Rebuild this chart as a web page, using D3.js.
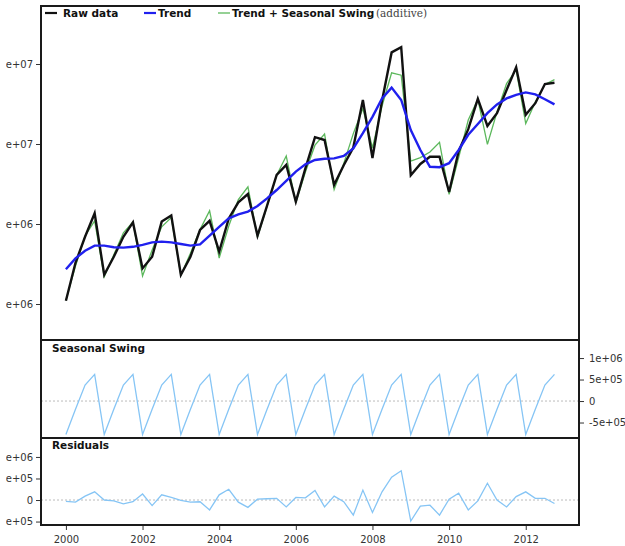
<!DOCTYPE html>
<html>
<head>
<meta charset="utf-8">
<script src="https://cdn.jsdelivr.net/npm/d3@7"></script>
<style>
  body { margin: 0; background: #fff; }
  text { font-family: "DejaVu Sans", Verdana, sans-serif; }
</style>
</head>
<body>
<div id="grafico"></div>
<script>
// dados trimestrais 2000 Q1 .. 2012 Q4 (valores em milhoes)
var anos = [2000, 2001, 2002, 2003, 2004, 2005, 2006, 2007, 2008, 2009, 2010, 2011, 2012];
var trimestres = [0, 0.25, 0.5, 0.75];

var brutos = [6.08, 7.03, 7.68, 8.27, 6.73, 7.18, 7.68, 8.04, 6.89, 7.18, 8.06, 8.21,
  6.73, 7.18, 7.85, 8.08, 7.31, 8.14, 8.54, 8.75, 7.71, 8.46, 9.23, 9.48,
  8.56, 9.39, 10.17, 10.10, 8.98, 9.47, 9.91, 11.10, 9.65, 11.08, 12.29, 12.42,
  9.22, 9.50, 9.68, 9.68, 8.80, 9.82, 10.37, 11.13, 10.45, 10.77, 11.35, 11.92,
  10.73, 11.02, 11.50, 11.53];

var tendencia = [6.87, 7.14, 7.33, 7.46, 7.46, 7.42, 7.41, 7.43, 7.48, 7.54, 7.56, 7.54,
  7.50, 7.46, 7.49, 7.71, 7.93, 8.14, 8.24, 8.31, 8.45, 8.64, 8.85, 9.08,
  9.31, 9.49, 9.60, 9.63, 9.64, 9.70, 9.89, 10.27, 10.68, 11.14, 11.41, 11.10,
  10.35, 9.85, 9.43, 9.42, 9.52, 9.85, 10.23, 10.50, 10.77, 10.99, 11.14, 11.23,
  11.29, 11.24, 11.12, 10.99];

var tendSazonal = [6.09, 6.95, 7.70, 8.08, 6.68, 7.23, 7.78, 8.05, 6.70, 7.35, 7.93, 8.16,
  6.72, 7.27, 7.86, 8.33, 7.15, 7.95, 8.61, 8.93, 7.67, 8.45, 9.22, 9.70,
  8.53, 9.30, 9.97, 10.25, 8.86, 9.51, 10.26, 10.89, 9.90, 10.95, 11.78, 11.72,
  9.57, 9.66, 9.80, 10.04, 8.74, 9.66, 10.60, 11.12, 9.99, 10.80, 11.51, 11.85,
  10.51, 11.05, 11.49, 11.61];

var sazonal = [-0.78, -0.19, 0.37, 0.62, -0.78, -0.19, 0.37, 0.62, -0.78, -0.19, 0.37, 0.62,
  -0.78, -0.19, 0.37, 0.62, -0.78, -0.19, 0.37, 0.62, -0.78, -0.19, 0.37, 0.62,
  -0.78, -0.19, 0.37, 0.62, -0.78, -0.19, 0.37, 0.62, -0.78, -0.19, 0.37, 0.62,
  -0.78, -0.19, 0.37, 0.62, -0.78, -0.19, 0.37, 0.62, -0.78, -0.19, 0.37, 0.62,
  -0.78, -0.19, 0.37, 0.62];

var residuos = [-0.03, -0.05, 0.09, 0.19, 0.00, -0.02, -0.09, -0.04, 0.14, -0.13, 0.12, 0.06,
  -0.01, -0.05, -0.04, -0.23, 0.12, 0.25, -0.05, -0.17, 0.02, 0.03, 0.04, -0.16,
  0.06, 0.05, 0.22, -0.16, 0.09, -0.04, -0.35, 0.23, -0.29, 0.19, 0.53, 0.68,
  -0.49, -0.14, -0.12, -0.35, 0.02, 0.16, -0.23, -0.02, 0.39, 0.00, -0.16, 0.08,
  0.19, 0.04, 0.04, -0.08];

var ticksX = [2000, 2002, 2004, 2006, 2008, 2010, 2012];
var ticksPrincipal = [6, 8, 10, 12];
var rotulosPrincipal = ["6e+06", "8e+06", "1e+07", "1.2e+07"];
var ticksSazonal = [-0.5, 0, 0.5, 1];
var rotulosSazonal = ["-5e+05", "0", "5e+05", "1e+06"];
var ticksResiduos = [-0.5, 0, 0.5, 1];
var rotulosResiduos = ["-5e+05", "0", "5e+05", "1e+06"];

var legenda = [
  {nome: "Raw data", cor: "#111111", x: 45},
  {nome: "Trend", cor: "#2020ee", x: 144},
  {nome: "Trend + Seasonal Swing", cor: "#5cb85c", x: 218}
];

// tempo de cada ponto
var tempos = [];
anos.forEach(function(a) {
  trimestres.forEach(function(q) { tempos.push(a + q); });
});

var largura = 625, altura = 546;
var esq = 41, dir = 579;

var svg = d3.select("#grafico").append("svg")
  .attr("width", largura)
  .attr("height", altura);

// o recorte da esquerda corta o inicio dos rotulos, como no original
svg.append("defs").append("clipPath").attr("id", "corteEsq")
  .append("rect").attr("x", 6).attr("y", 0).attr("width", 700).attr("height", altura);

var xScale = d3.scaleLinear().domain([1999.35, 2013.39]).range([esq, dir]);

var paineis = {
  principal: {topo: 6, base: 340, y: d3.scaleLinear().domain([5.1, 13.45]).range([340, 6])},
  sazonal: {topo: 340, base: 438, y: d3.scaleLinear().domain([-0.86, 1.42]).range([438, 340])},
  residuos: {topo: 438, base: 525, y: d3.scaleLinear().domain([-0.58, 1.44]).range([525, 438])}
};

function desenhaLinha(escalaY, valores, cor, espessura) {
  var linha = d3.line()
    .x(function(d, i) { return xScale(tempos[i]); })
    .y(function(d) { return escalaY(d); });
  svg.append("path")
    .datum(valores)
    .attr("d", linha)
    .attr("fill", "none")
    .attr("stroke", cor)
    .attr("stroke-width", espessura)
    .attr("stroke-linejoin", "miter");
}

function linhaZero(p) {
  svg.append("line")
    .attr("x1", esq).attr("x2", dir)
    .attr("y1", p.y(0)).attr("y2", p.y(0))
    .attr("stroke", "#bbbbbb")
    .attr("stroke-width", 1)
    .attr("stroke-dasharray", "2,2");
}

function eixoEsq(p, ticks, rotulos) {
  var eixo = d3.axisLeft(p.y).tickValues(ticks).tickSize(5).tickPadding(3)
    .tickFormat(function(d, i) { return rotulos[i]; });
  var g = svg.append("g")
    .attr("clip-path", "url(#corteEsq)")
    .append("g")
    .attr("transform", "translate(" + esq + ",0)")
    .call(eixo);
  g.select(".domain").remove();
  g.selectAll("line").attr("stroke", "#333");
  g.selectAll("text").attr("font-size", "10px").attr("fill", "#333")
    .style("font-family", "DejaVu Sans, sans-serif");
}

// painel principal
var pp = paineis.principal;
desenhaLinha(pp.y, tendSazonal, "#5cb85c", 1.3);
desenhaLinha(pp.y, brutos, "#111111", 2.4);
desenhaLinha(pp.y, tendencia, "#2020ee", 2.4);
eixoEsq(pp, ticksPrincipal, rotulosPrincipal);

// legenda
var itens = svg.selectAll(".legenda")
  .data(legenda)
  .enter()
  .append("g")
  .attr("class", "legenda");
itens.append("line")
  .attr("x1", function(d) { return d.x; })
  .attr("x2", function(d) { return d.x + 12; })
  .attr("y1", 13).attr("y2", 13)
  .attr("stroke", function(d) { return d.cor; })
  .attr("stroke-width", function(d, i) { return i == 2 ? 1.3 : 2.2; });
itens.append("text")
  .attr("x", function(d, i) { return d.x + (i == 0 ? 18 : 14); })
  .attr("y", 17)
  .attr("font-size", "10.5px")
  .attr("font-weight", "bold")
  .attr("fill", "#111")
  .text(function(d) { return d.nome; });
svg.append("text")
  .attr("x", 376).attr("y", 17)
  .attr("font-size", "10.5px")
  .attr("fill", "#444")
  .style("font-family", "DejaVu Serif, serif")
  .text("(additive)");

// painel sazonal
var ps = paineis.sazonal;
linhaZero(ps);
desenhaLinha(ps.y, sazonal, "#86c5f5", 1.3);
var eixoDir = d3.axisRight(ps.y).tickValues(ticksSazonal).tickSize(5).tickPadding(5)
  .tickFormat(function(d, i) { return rotulosSazonal[i]; });
var gDir = svg.append("g").attr("transform", "translate(" + dir + ",0)").call(eixoDir);
gDir.select(".domain").remove();
gDir.selectAll("line").attr("stroke", "#333");
gDir.selectAll("text").attr("font-size", "10px").attr("fill", "#333")
  .style("font-family", "DejaVu Sans, sans-serif");
svg.append("text")
  .attr("x", 52).attr("y", 352)
  .attr("font-size", "10.5px").attr("font-weight", "bold").attr("fill", "#111")
  .text("Seasonal Swing");

// painel residuos
var pr = paineis.residuos;
linhaZero(pr);
desenhaLinha(pr.y, residuos, "#86c5f5", 1.3);
eixoEsq(pr, ticksResiduos, rotulosResiduos);
svg.append("text")
  .attr("x", 52).attr("y", 449)
  .attr("font-size", "10.5px").attr("font-weight", "bold").attr("fill", "#111")
  .text("Residuals");

// eixo x
var eixoX = d3.axisBottom(xScale).tickValues(ticksX).tickSize(5).tickPadding(6)
  .tickFormat(d3.format("d"));
var gX = svg.append("g").attr("transform", "translate(0," + pr.base + ")").call(eixoX);
gX.select(".domain").remove();
gX.selectAll("line").attr("stroke", "#333");
gX.selectAll("text").attr("font-size", "10px").attr("fill", "#333")
  .style("font-family", "DejaVu Sans, sans-serif");

// molduras dos paineis
[pp, ps, pr].forEach(function(p) {
  svg.append("rect")
    .attr("x", esq).attr("y", p.topo)
    .attr("width", dir - esq).attr("height", p.base - p.topo)
    .attr("fill", "none")
    .attr("stroke", "#1a1a1a")
    .attr("stroke-width", 2);
});
</script>
</body>
</html>
